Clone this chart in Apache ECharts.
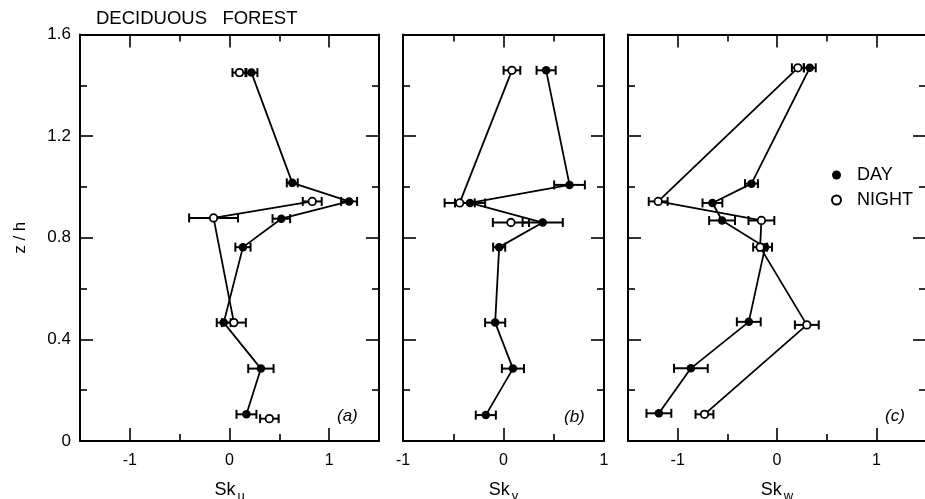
<!DOCTYPE html>
<html>
<head>
<meta charset="utf-8">
<script src="https://cdn.jsdelivr.net/npm/echarts@6/dist/echarts.min.js"></script>
<style>
  html, body { margin: 0; padding: 0; background: #fff; }
  #chart { width: 925px; height: 499px; }
</style>
</head>
<body>
<div id="chart"></div>
<script>
// ---------- data ----------
// Panel (a): Sk_u
const zDayA   = [1.450, 1.016, 0.943, 0.875, 0.763, 0.466, 0.285, 0.105];
const skuDay  = [0.22, 0.63, 1.20, 0.52, 0.135, -0.058, 0.315, 0.17];
const skuDayErr = [0.06, 0.055, 0.08, 0.088, 0.076, 0.07, 0.127, 0.10];
const zNightA = [1.450, 0.943, 0.878, 0.466, 0.088];
const skuNight = [0.10, 0.83, -0.16, 0.044, 0.40];
const skuNightErr = [0.07, 0.095, 0.245, 0.12, 0.093];
const skuNightLinked = [0, 1, 1, 1, 0];

// Panel (b): Sk_v
const zDayB   = [1.459, 1.008, 0.937, 0.860, 0.763, 0.466, 0.285, 0.102];
const skvDay  = [0.424, 0.657, -0.333, 0.39, -0.043, -0.083, 0.094, -0.176];
const skvDayErr = [0.095, 0.153, 0.15, 0.2, 0.06, 0.1, 0.11, 0.1];
const zNightB = [1.459, 0.937, 0.860];
const skvNight = [0.084, -0.436, 0.074];
const skvNightErr = [0.083, 0.15, 0.18];
const skvNightLinked = [1, 1, 0];

// Panel (c): Sk_w
const zDayC   = [1.469, 1.013, 0.937, 0.868, 0.763, 0.469, 0.286, 0.109];
const skwDay  = [0.33, -0.257, -0.65, -0.553, -0.12, -0.284, -0.867, -1.189];
const skwDayErr = [0.06, 0.065, 0.1, 0.13, 0.07, 0.12, 0.17, 0.125];
const zNightC = [1.469, 0.943, 0.868, 0.763, 0.457, 0.105];
const skwNight = [0.21, -1.196, -0.157, -0.17, 0.30, -0.73];
const skwNightErr = [0.06, 0.095, 0.13, 0.07, 0.12, 0.09];
const skwNightLinked = [1, 1, 1, 1, 1, 1];

// axes
const xRanges = [[-1.5, 1.5], [-1, 1], [-1.5, 1.5]];
const xMajorTicks = [-1, 0, 1];
const xMinorTicks = [-0.5, 0.5];
const yMin = 0, yMax = 1.6, yStep = 0.4;
const xNames = ['u', 'v', 'w'];
const panelTags = ['(a)', '(b)', '(c)'];
const legendNames = ['DAY', 'NIGHT'];
const titleText = 'DECIDUOUS   FOREST';

// ---------- build ----------
const FONT = '"Liberation Sans", Arial, Helvetica, sans-serif';
const BLACK = '#000';
const grids = [
  { left: 80,  top: 34.5, width: 299, height: 406.5 },
  { left: 403, top: 34.5, width: 201, height: 406.5 },
  { left: 628, top: 34.5, width: 298, height: 406.5 }
];

const panels = [
  { day: [skuDay, zDayA, skuDayErr], night: [skuNight, zNightA, skuNightErr], linked: skuNightLinked },
  { day: [skvDay, zDayB, skvDayErr], night: [skvNight, zNightB, skvNightErr], linked: skvNightLinked },
  { day: [skwDay, zDayC, skwDayErr], night: [skwNight, zNightC, skwNightErr], linked: skwNightLinked }
];

function triples(arr) { return arr[0].map((x, i) => [x, arr[1][i], arr[2][i]]); }

const xAxis = [], yAxis = [], series = [];

grids.forEach((g, gi) => {
  const [mn, mx] = xRanges[gi];
  const majors = xMajorTicks.filter(v => v >= mn && v <= mx);
  const minors = xMinorTicks.filter(v => v > mn && v < mx);
  ['bottom', 'top'].forEach(pos => {
    xAxis.push({
      gridIndex: gi, type: 'value', position: pos, min: mn, max: mx,
      axisLine: { show: true, onZero: false, lineStyle: { color: BLACK, width: 2 } },
      axisTick: { show: true, inside: true, length: 13, customValues: majors, lineStyle: { color: BLACK, width: 1.6 } },
      axisLabel: pos === 'bottom'
        ? { show: true, customValues: majors, color: BLACK, fontFamily: FONT, fontSize: 16, margin: 12,
            formatter: v => (v < 0 ? '-' + Math.abs(v) : String(v)) }
        : { show: false },
      splitLine: { show: false },
      name: pos === 'bottom' ? '{a|Sk}{b|' + xNames[gi] + '}' : '',
      nameLocation: 'middle', nameGap: 40,
      nameTextStyle: {
        color: BLACK, fontFamily: FONT,
        rich: {
          a: { fontSize: 18, color: BLACK, fontFamily: FONT, verticalAlign: 'top', lineHeight: 22 },
          b: { fontSize: 13, color: BLACK, fontFamily: FONT, verticalAlign: 'top', lineHeight: 22, padding: [9, 0, 0, 2] }
        }
      }
    });
  });
  ['bottom', 'top'].forEach(pos => {
    xAxis.push({
      gridIndex: gi, type: 'value', position: pos, min: mn, max: mx,
      axisLine: { show: false, onZero: false },
      axisTick: { show: true, inside: true, length: 7, customValues: minors, lineStyle: { color: BLACK, width: 1.6 } },
      axisLabel: { show: false }, splitLine: { show: false }
    });
  });
  ['left', 'right'].forEach(pos => {
    yAxis.push({
      gridIndex: gi, type: 'value', position: pos, min: yMin, max: yMax, interval: yStep,
      axisLine: { show: true, onZero: false, lineStyle: { color: BLACK, width: 2 } },
      axisTick: { show: true, inside: true, length: 13, lineStyle: { color: BLACK, width: 1.6 } },
      minorTick: { show: true, splitNumber: 2, length: 7, lineStyle: { color: BLACK, width: 1.6 } },
      axisLabel: (gi === 0 && pos === 'left')
        ? { show: true, color: BLACK, fontFamily: FONT, fontSize: 17, margin: 9 }
        : { show: false },
      splitLine: { show: false }, minorSplitLine: { show: false },
      name: (gi === 0 && pos === 'left') ? 'z / h' : '',
      nameLocation: 'middle', nameGap: 51, nameRotate: 90,
      nameTextStyle: { color: BLACK, fontFamily: FONT, fontSize: 17 }
    });
  });
});

function errRender(params, api) {
  const x = api.value(0), z = api.value(1), e = api.value(2);
  const p1 = api.coord([x - e, z]);
  const p2 = api.coord([x + e, z]);
  const h = 4.5;
  const st = { stroke: BLACK, lineWidth: 2 };
  return {
    type: 'group',
    children: [
      { type: 'line', shape: { x1: p1[0], y1: p1[1], x2: p2[0], y2: p2[1] }, style: st },
      { type: 'line', shape: { x1: p1[0], y1: p1[1] - h, x2: p1[0], y2: p1[1] + h }, style: st },
      { type: 'line', shape: { x1: p2[0], y1: p2[1] - h, x2: p2[0], y2: p2[1] + h }, style: st }
    ]
  };
}

panels.forEach((p, gi) => {
  const xi = gi * 4, yi = gi * 2;
  const day = triples(p.day);
  const night = triples(p.night);
  // night connecting line with breaks for unlinked points
  const nightLine = [];
  night.forEach((d, i) => {
    if (p.linked[i]) nightLine.push([d[0], d[1]]);
    else nightLine.push(['-', '-']);
  });
  series.push({
    type: 'line', xAxisIndex: xi, yAxisIndex: yi, data: day.map(d => [d[0], d[1]]),
    showSymbol: false, symbol: 'none', silent: true, z: 2, animation: false,
    lineStyle: { color: BLACK, width: 1.8 }, connectNulls: false
  });
  series.push({
    type: 'line', xAxisIndex: xi, yAxisIndex: yi, data: nightLine,
    showSymbol: false, symbol: 'none', silent: true, z: 2, animation: false,
    lineStyle: { color: BLACK, width: 1.8 }, connectNulls: false
  });
  [day, night].forEach(dd => {
    series.push({
      type: 'custom', xAxisIndex: xi, yAxisIndex: yi, data: dd,
      renderItem: errRender, encode: { x: 0, y: 1 }, z: 3, silent: true, animation: false
    });
  });
  series.push({
    name: legendNames[0], type: 'scatter', xAxisIndex: xi, yAxisIndex: yi,
    data: day.map(d => [d[0], d[1]]), symbol: 'circle', symbolSize: 8.5, z: 4, animation: false,
    itemStyle: { color: BLACK, opacity: 1 }
  });
  series.push({
    name: legendNames[1], type: 'scatter', xAxisIndex: xi, yAxisIndex: yi,
    data: night.map(d => [d[0], d[1]]), symbol: 'circle', symbolSize: 7.5, z: 5, animation: false,
    itemStyle: { color: '#fff', borderColor: BLACK, borderWidth: 1.8, opacity: 1 }
  });
});

const titles = [{
  text: titleText, left: 91, top: 4,
  textStyle: { color: BLACK, fontFamily: FONT, fontSize: 18.5, fontWeight: 'normal' }
}];
const tagPos = [[332, 403], [559, 404], [880, 403]];
panelTags.forEach((t, i) => {
  titles.push({
    text: t, left: tagPos[i][0], top: tagPos[i][1],
    textStyle: { color: BLACK, fontFamily: FONT, fontSize: 17, fontWeight: 'normal', fontStyle: 'italic' }
  });
});

const option = {
  backgroundColor: '#fff',
  animation: false,
  title: titles,
  grid: grids.map(g => Object.assign({ containLabel: false, outerBoundsMode: 'none' }, g)),
  xAxis, yAxis, series,
  legend: {
    data: legendNames, orient: 'vertical', left: 826, top: 161,
    itemWidth: 9, itemHeight: 9, itemGap: 7, icon: 'circle',
    selectedMode: false,
    textStyle: { color: BLACK, fontFamily: FONT, fontSize: 18, lineHeight: 18, padding: [0, 0, 0, 11] }
  }
};

const chart = echarts.init(document.getElementById('chart'), null, { renderer: 'canvas' });
chart.setOption(option);
</script>
</body>
</html>
